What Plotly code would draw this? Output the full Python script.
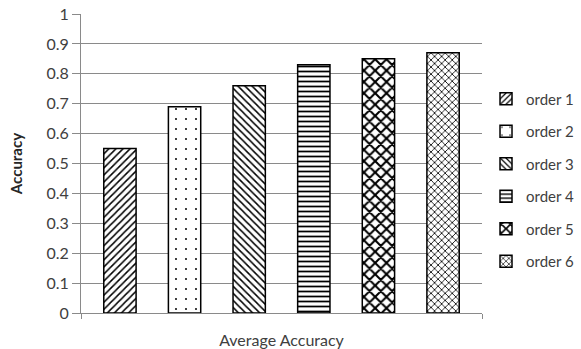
import plotly.graph_objects as go

# Accuracy per ordering, one grouped category
category = ["Average Accuracy"]
series_names = ["order 1", "order 2", "order 3", "order 4", "order 5", "order 6"]
accuracy = [0.55, 0.69, 0.76, 0.83, 0.85, 0.87]
y_ticks = [0, 0.1, 0.2, 0.3, 0.4, 0.5, 0.6, 0.7, 0.8, 0.9, 1]

# Hatch fill for each series: (shape, size, solidity)
hatches = [
    ("/", 5, 0.3),
    (".", 10, 0.03),
    ("\\", 5, 0.3),
    ("-", 5, 0.35),
    ("x", 8, 0.45),
    ("x", 5, 0.3),
]

FONT = "Lato, 'Open Sans', sans-serif"
GRID = "#8a8a8a"
TEXT = "#404040"

fig = go.Figure()
for name, val, (shape, size, solid) in zip(series_names, accuracy, hatches):
    fig.add_trace(go.Bar(
        x=category,
        y=[val],
        name=name,
        legendgroup=name,
        marker=dict(
            color="white",
            line=dict(color="black", width=1.5),
            pattern=dict(shape=shape, size=size, solidity=solid,
                         fgcolor="black", bgcolor="white", fillmode="replace"),
        ),
    ))

fig.update_layout(
    width=581,
    height=349,
    margin=dict(l=81, r=99, t=14, b=36, autoexpand=False),
    paper_bgcolor="white",
    plot_bgcolor="white",
    barmode="group",
    bargap=0.033,
    bargroupgap=0.5,
    font=dict(family=FONT, size=16, color=TEXT),
    legend=dict(
        x=1.01, xanchor="left",
        y=0.445, yanchor="middle",
        traceorder="grouped",
        tracegroupgap=10,
        font=dict(family=FONT, size=15, color=TEXT),
        itemwidth=30,
    ),
    xaxis=dict(
        automargin=False,
        showticklabels=False,
        tickson="boundaries",
        ticks="outside",
        ticklen=5,
        tickcolor=GRID,
        showline=True,
        linecolor=GRID,
        linewidth=1,
        showgrid=False,
        title=dict(text="Average Accuracy", standoff=33,
                   font=dict(family=FONT, size=16, color=TEXT)),
    ),
    yaxis=dict(
        automargin=False,
        range=[0, 1],
        tickvals=y_ticks,
        ticktext=[f"{t:g}" for t in y_ticks],
        ticks="outside",
        ticklen=8,
        tickcolor=GRID,
        showline=True,
        linecolor=GRID,
        linewidth=1,
        showgrid=True,
        gridcolor=GRID,
        gridwidth=1,
        zeroline=False,
        tickfont=dict(family=FONT, size=16, color=TEXT),
        title=dict(text="<b>Accuracy</b>", standoff=20,
                   font=dict(family=FONT, size=15, color="#262626")),
    ),
)

fig.write_html("out.html")
